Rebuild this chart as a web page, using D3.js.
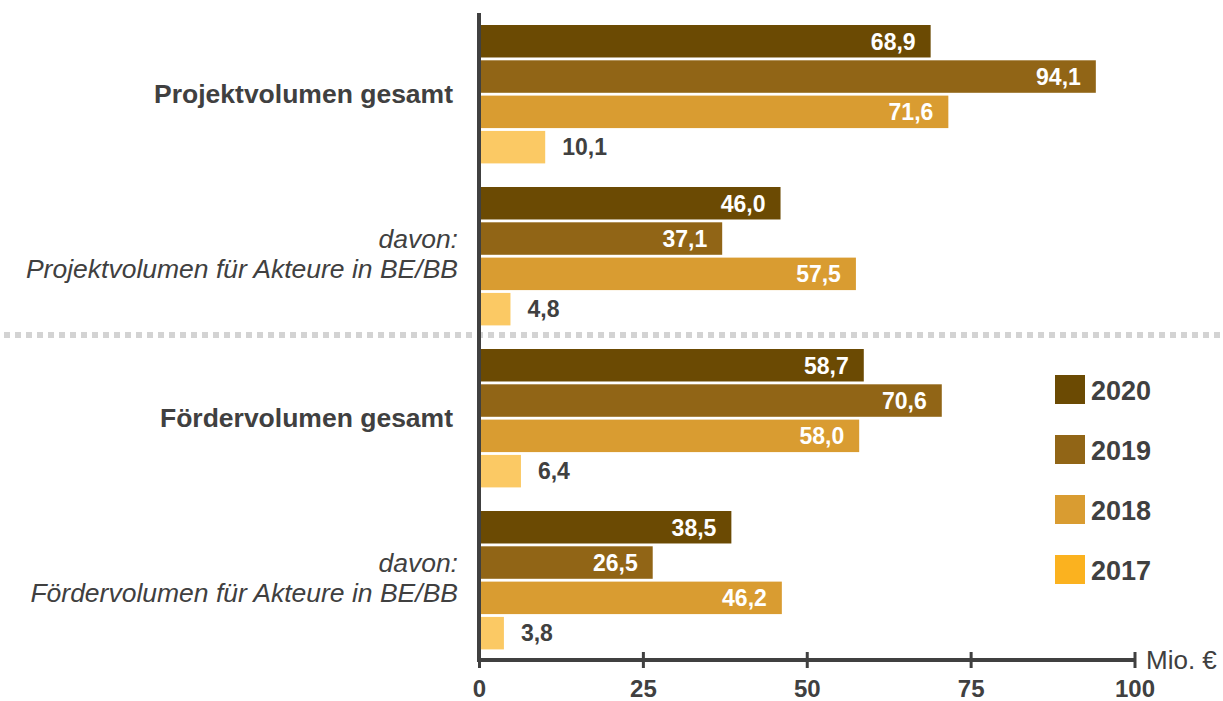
<!DOCTYPE html>
<html>
<head>
<meta charset="utf-8">
<script src="https://cdn.jsdelivr.net/npm/d3@7/dist/d3.min.js"></script>
<style>
  html, body { margin: 0; padding: 0; background: #fff; }
  svg { display: block; font-family: "Liberation Sans", Arial, sans-serif; }
</style>
</head>
<body>
<svg id="chart" width="1223" height="701"></svg>
<script>
// Kategorien (Zeilen) und Jahre (Balken je Kategorie)
const categories = [
  "Projektvolumen gesamt",
  "davon: Projektvolumen für Akteure in BE/BB",
  "Fördervolumen gesamt",
  "davon: Fördervolumen für Akteure in BE/BB"
];
const categoryLines = [
  ["Projektvolumen gesamt"],
  ["davon:", "Projektvolumen für Akteure in BE/BB"],
  ["Fördervolumen gesamt"],
  ["davon:", "Fördervolumen für Akteure in BE/BB"]
];
const years = ["2020", "2019", "2018", "2017"];

// Werte in Mio. € je Jahr, in der Reihenfolge der Kategorien
const values2020 = [68.9, 46.0, 58.7, 38.5];
const values2019 = [94.1, 37.1, 70.6, 26.5];
const values2018 = [71.6, 57.5, 58.0, 46.2];
const values2017 = [10.1, 4.8, 6.4, 3.8];

const xTicks = [0, 25, 50, 75, 100];
const unitLabel = "Mio. €";

const seriesByYear = { "2020": values2020, "2019": values2019, "2018": values2018, "2017": values2017 };

const barColor = { "2020": "#6b4a03", "2019": "#916516", "2018": "#d99c31", "2017": "#fbc964" };
const legendColor = { "2020": "#6b4a03", "2019": "#916516", "2018": "#d99c31", "2017": "#fbb21f" };
const textDark = "#404040";

const svg = d3.select("#chart");
const de = d3.formatLocale({ decimal: ",", thousands: ".", grouping: [3], currency: ["", " €"] });
const fmt = de.format(".1f");

// Skalen
const x = d3.scaleLinear().domain([0, 100]).range([479, 1134.5]);
const yGroup = d3.scaleBand().domain(categories).range([14, 662]).padding(0);
const yBar = d3.scaleBand().domain(years).range([11, 149.4]).paddingInner(0.08).paddingOuter(0);

// Gepunktete Trennlinie zwischen Projekt- und Fördervolumen
svg.append("line")
  .attr("x1", 4).attr("x2", 1223)
  .attr("y1", 335).attr("y2", 335)
  .attr("stroke", "#d3d3d3")
  .attr("stroke-width", 6)
  .attr("stroke-dasharray", "6,5");

// Balken
const rows = [];
categories.forEach((c, ci) => {
  years.forEach(yr => rows.push({ cat: c, ci, year: yr, value: seriesByYear[yr][ci] }));
});

const barG = svg.append("g");
barG.selectAll("rect")
  .data(rows)
  .join("rect")
  .attr("x", x(0))
  .attr("y", d => yGroup(d.cat) + yBar(d.year))
  .attr("width", d => x(d.value) - x(0))
  .attr("height", yBar.bandwidth())
  .attr("fill", d => barColor[d.year]);

// Wertbeschriftungen: innen weiß, bei kurzen Balken (2017) außen dunkel
barG.selectAll("text")
  .data(rows)
  .join("text")
  .attr("x", d => d.year === "2017" ? x(d.value) + 17 : x(d.value) - 15)
  .attr("y", d => yGroup(d.cat) + yBar(d.year) + yBar.bandwidth() / 2)
  .attr("dy", "0.36em")
  .attr("text-anchor", d => d.year === "2017" ? "start" : "end")
  .attr("fill", d => d.year === "2017" ? textDark : "#ffffff")
  .attr("font-size", 23)
  .attr("font-weight", "bold")
  .text(d => fmt(d.value));

// Kategoriebeschriftungen links
const catG = svg.append("g");
categoryLines.forEach((lines, ci) => {
  const c = categories[ci];
  const cy = yGroup(c) + yBar(years[0]) + (yBar(years[3]) + yBar.bandwidth() - yBar(years[0])) / 2;
  if (lines.length === 1) {
    catG.append("text")
      .attr("x", 453).attr("y", cy + 9)
      .attr("text-anchor", "end")
      .attr("font-size", 26.5).attr("font-weight", "bold")
      .attr("fill", textDark)
      .text(lines[0]);
  } else {
    lines.forEach((t, li) => {
      catG.append("text")
        .attr("x", 458).attr("y", cy - 8 + li * 30)
        .attr("text-anchor", "end")
        .attr("font-size", 26.5).attr("font-style", "italic")
        .attr("fill", textDark)
        .text(t);
    });
  }
});

// x-Achse
const axisG = svg.append("g")
  .attr("transform", "translate(0,660)")
  .call(d3.axisBottom(x).tickValues(xTicks).tickSize(8).tickFormat(d3.format("d")));
axisG.select(".domain")
  .attr("d", `M${x(0)},0H${x(100)}`)
  .attr("stroke", textDark).attr("stroke-width", 4);
axisG.selectAll(".tick line")
  .attr("y1", -8).attr("y2", 8)
  .attr("stroke", textDark).attr("stroke-width", 3);
axisG.selectAll(".tick text")
  .attr("y", 37).attr("dy", null)
  .attr("fill", textDark)
  .attr("font-size", 24).attr("font-weight", "bold")
  .attr("font-family", "'Liberation Sans', Arial, sans-serif");

// Einheit
svg.append("text")
  .attr("x", 1146).attr("y", 669)
  .attr("font-size", 26).attr("fill", textDark)
  .text(unitLabel);

// y-Achsenlinie
svg.append("line")
  .attr("x1", 479).attr("x2", 479)
  .attr("y1", 13).attr("y2", 662)
  .attr("stroke", textDark).attr("stroke-width", 4);

// Legende
const legend = svg.append("g");
years.forEach((yr, i) => {
  const ly = 375 + i * 60;
  legend.append("rect")
    .attr("x", 1055).attr("y", ly)
    .attr("width", 30).attr("height", 29)
    .attr("fill", legendColor[yr]);
  legend.append("text")
    .attr("x", 1091).attr("y", ly + 25)
    .attr("font-size", 27).attr("font-weight", "bold")
    .attr("fill", textDark)
    .text(yr);
});
</script>
</body>
</html>
